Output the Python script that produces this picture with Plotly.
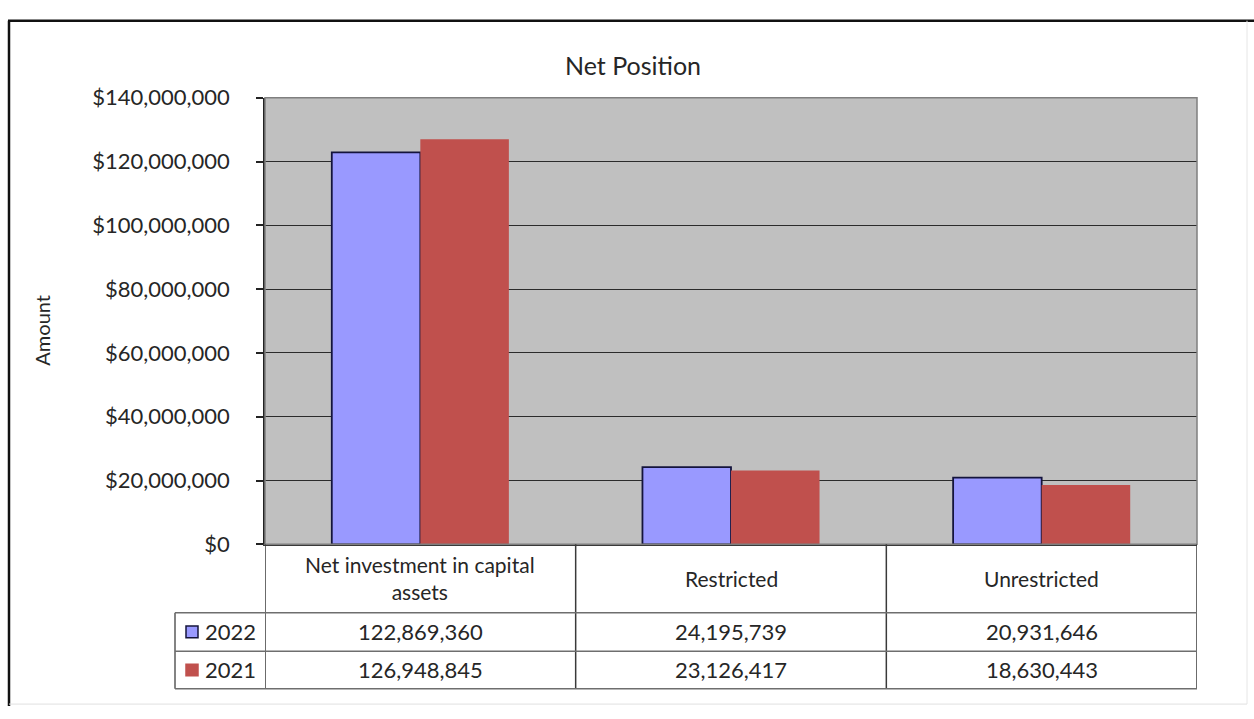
import textwrap
import plotly.graph_objects as go

# ---- data -------------------------------------------------------------
categories = ["Net investment in capital assets", "Restricted", "Unrestricted"]
series_names = ["2022", "2021"]
values_2022 = [122869360, 24195739, 20931646]
values_2021 = [126948845, 23126417, 18630443]
y_ticks = [0, 20000000, 40000000, 60000000, 80000000, 100000000, 120000000, 140000000]

# ---- canvas geometry (pixels) ----------------------------------------
W, H = 1254, 719
PLOT_L, PLOT_R, PLOT_T, PLOT_B = 265, 1197, 87, 551
TABLE_L = 175
ROW_LINES = [622, 662, 701]          # header bottom, row1 bottom, row2 bottom
FONT = "Lato"
TXT = "#262626"
BLUE, BLUE_EDGE = "#9999FF", "#14143c"
RED = "#C0504D"


def px(x):
    return x / W


def py(y):
    return 1 - y / H


fig = go.Figure()
fig.add_trace(go.Bar(
    x=categories, y=values_2022, name=series_names[0],
    marker=dict(color=BLUE, line=dict(color=BLUE_EDGE, width=1.8)),
))
fig.add_trace(go.Bar(
    x=categories, y=values_2021, name=series_names[1],
    marker=dict(color=RED, line=dict(color=RED, width=0)),
))

shapes = []
# plot frame (grey on top/right)
shapes.append(dict(type="rect", xref="paper", yref="paper",
                   x0=px(PLOT_L), x1=px(PLOT_R), y0=py(PLOT_B), y1=py(PLOT_T),
                   line=dict(color="#7f7f7f", width=1.5), layer="above"))
# outer chart border
shapes.append(dict(type="line", xref="paper", yref="paper",
                   x0=px(8), x1=1, y0=py(7), y1=py(7),
                   line=dict(color="#111111", width=2.5)))
shapes.append(dict(type="line", xref="paper", yref="paper",
                   x0=px(9), x1=px(9), y0=py(7), y1=0,
                   line=dict(color="#111111", width=2.5)))
shapes.append(dict(type="line", xref="paper", yref="paper",
                   x0=px(1247), x1=px(1247), y0=py(7), y1=py(717),
                   line=dict(color="#e6e6e6", width=1)))
shapes.append(dict(type="line", xref="paper", yref="paper",
                   x0=px(9), x1=px(1247), y0=py(717), y1=py(717),
                   line=dict(color="#e0e0e0", width=1)))

# data table: vertical dividers at the category boundaries
for xb in [-0.5, 0.5, 1.5, len(categories) - 0.5]:
    shapes.append(dict(type="line", xref="x", yref="paper",
                       x0=xb, x1=xb, y0=py(PLOT_B), y1=py(ROW_LINES[-1]),
                       line=dict(color="#3a3a3a", width=1.5)))
shapes.append(dict(type="line", xref="paper", yref="paper",
                   x0=px(TABLE_L), x1=px(TABLE_L), y0=py(ROW_LINES[0]), y1=py(ROW_LINES[-1]),
                   line=dict(color="#5a5a5a", width=1.5)))
for yl in ROW_LINES:
    shapes.append(dict(type="line", xref="paper", yref="paper",
                       x0=px(TABLE_L), x1=px(PLOT_R), y0=py(yl), y1=py(yl),
                       line=dict(color="#6e6e6e", width=1.5)))

annotations = []
# title
annotations.append(dict(text="Net Position", x=px(633), y=py(53), xref="paper", yref="paper",
                        showarrow=False, font=dict(family=FONT, size=25, color=TXT),
                        xanchor="center", yanchor="middle"))
# y axis title
annotations.append(dict(text="Amount", x=px(42), y=py(329), xref="paper", yref="paper",
                        showarrow=False, textangle=-90,
                        font=dict(family=FONT, size=20, color=TXT),
                        xanchor="center", yanchor="middle"))
# table header: category names
header_mid = (PLOT_B + ROW_LINES[0]) / 2
for c in categories:
    label = "<br>".join(textwrap.wrap(c, 25))
    annotations.append(dict(text=label, x=c, y=py(header_mid), xref="x", yref="paper",
                            showarrow=False, align="center",
                            font=dict(family=FONT, size=21, color=TXT),
                            xanchor="center", yanchor="middle"))
# table rows: legend key, series name and values
row_mids = [(ROW_LINES[0] + ROW_LINES[1]) / 2, (ROW_LINES[1] + ROW_LINES[2]) / 2]
row_data = [(series_names[0], values_2022, BLUE, BLUE_EDGE),
            (series_names[1], values_2021, RED, RED)]
for (name, vals, col, edge), ym in zip(row_data, row_mids):
    shapes.append(dict(type="rect", xref="paper", yref="paper",
                       x0=px(186), x1=px(198), y0=py(ym + 6), y1=py(ym - 6),
                       fillcolor=col, line=dict(color=edge, width=1.5)))
    annotations.append(dict(text=name, x=px(203), y=py(ym), xref="paper", yref="paper",
                            showarrow=False, font=dict(family=FONT, size=22, color=TXT),
                            xanchor="left", yanchor="middle"))
    for c, v in zip(categories, vals):
        annotations.append(dict(text=f"{v:,}", x=c, y=py(ym), xref="x", yref="paper",
                                showarrow=False, font=dict(family=FONT, size=22, color=TXT),
                                xanchor="center", yanchor="middle"))

fig.update_layout(
    width=W, height=H, autosize=False,
    margin=dict(l=0, r=0, t=0, b=0),
    paper_bgcolor="white", plot_bgcolor="#C0C0C0",
    barmode="group", bargap=0.43, bargroupgap=0,
    showlegend=False,
    shapes=shapes, annotations=annotations,
    xaxis=dict(domain=[px(PLOT_L), px(PLOT_R)], range=[-0.5, len(categories) - 0.5],
               showticklabels=False, ticks="", showgrid=False,
               showline=True, linecolor="#3a3a3a", linewidth=1.5, zeroline=False),
    yaxis=dict(domain=[py(PLOT_B), py(PLOT_T)], range=[0, 140000000],
               tickvals=y_ticks, tickformat="$,.0f",
               ticks="outside", ticklen=7, tickcolor="#222", tickwidth=1.5,
               ticklabelstandoff=22,
               tickfont=dict(family=FONT, size=22, color=TXT),
               showgrid=True, gridcolor="#2b2b2b", gridwidth=1.2,
               showline=True, linecolor="#222", linewidth=1.5, zeroline=False),
)

fig.write_html("out.html")
